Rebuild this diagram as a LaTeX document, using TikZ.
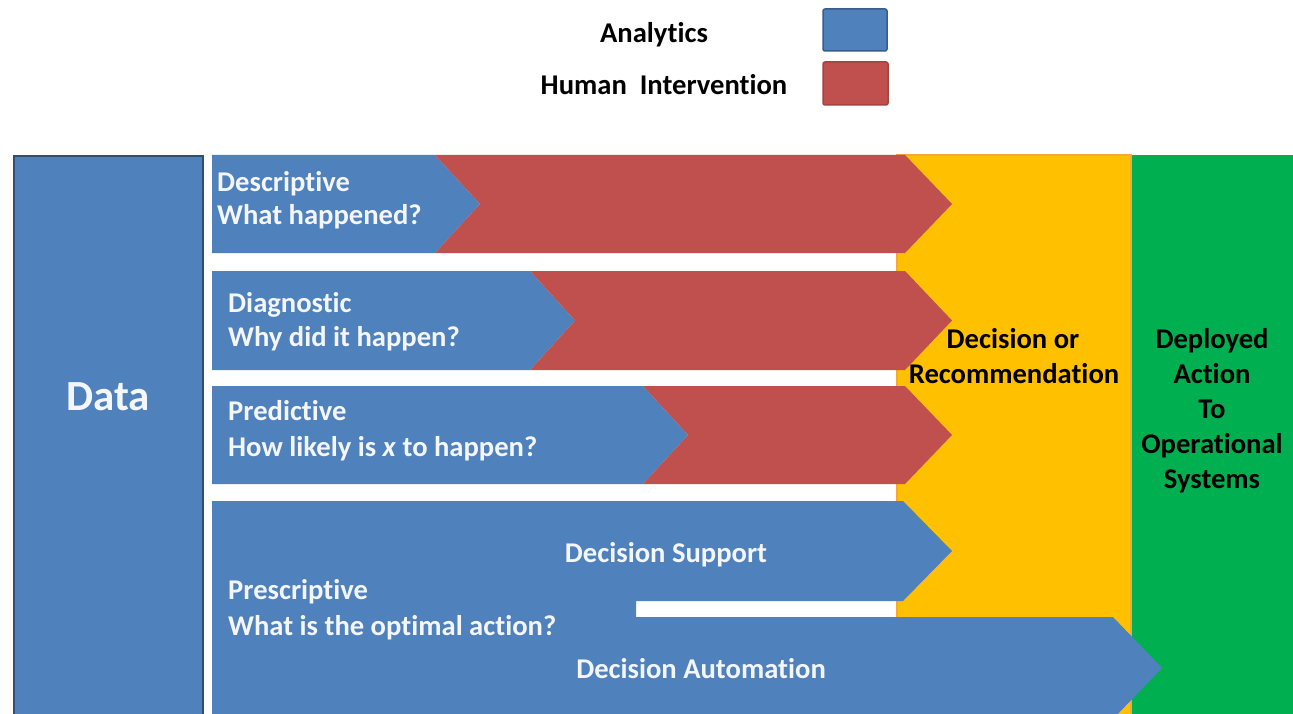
\documentclass[tikz,border=0pt]{standalone}
\usepackage{fontspec}
\setmainfont{Carlito}[Ligatures=NoCommon]
\definecolor{ablue}{HTML}{4F81BD}
\definecolor{dblue}{HTML}{385D8A}
\definecolor{hred}{HTML}{C0504D}
\definecolor{ygold}{HTML}{FFC000}
\definecolor{ygoldedge}{HTML}{F2A93B}
\definecolor{ggreen}{HTML}{00B050}
\definecolor{wtext}{HTML}{F4F6FA}
\begin{document}
\begin{tikzpicture}[x=1pt,y=-1pt,
  lbl/.style={font=\fontsize{28.6}{35}\selectfont\bfseries, inner sep=0pt},
  wlbl/.style={lbl, text=wtext, anchor=base west},
  clbl/.style={lbl, text=wtext, anchor=base},
  klbl/.style={lbl, text=black, anchor=base},
  legbox/.style={rounded corners=2pt, line width=1.5pt}]
\useasboundingbox (0,0) rectangle (1293,714);
\clip (0,0) rectangle (1293,714);
\fill[white] (0,0) rectangle (1293,714);

% legend
\node[klbl] (leg1) at (654,43) {Analytics};
\node[klbl] (leg2) at (664,95) {Human\ \ Intervention};
\filldraw[legbox, fill=ablue, draw=dblue] (823,9) rectangle (887,51);
\filldraw[legbox, fill=hred, draw=hred!85!black] (823,62) rectangle (888,105);

% columns
\filldraw[fill=ygold, draw=ygoldedge, line width=1.5pt] (897,155) rectangle (1131,720);
\fill[ggreen] (1132,155) rectangle (1295,720);
\draw[ygoldedge, line width=1pt] (1131.5,155) -- (1131.5,720);

% data block
\filldraw[fill=ablue, draw=dblue!85!black, line width=2.2pt] (14,156) rectangle (203,720);
\node[lbl, text=wtext, anchor=base, font=\fontsize{43}{50}\selectfont\bfseries] (data) at (108,410) {Data};

% row 1
\fill[ablue] (212,155) -- (435,155) -- (480,204) -- (435,253) -- (212,253) -- cycle;
\fill[hred] (435,155) -- (905,155) -- (952,204) -- (905,253) -- (435,253) -- (480,204) -- cycle;
% row 2
\fill[ablue] (212,271) -- (530,271) -- (575,320.5) -- (530,370) -- (212,370) -- cycle;
\fill[hred] (530,271) -- (905,271) -- (952,320.5) -- (905,370) -- (530,370) -- (575,320.5) -- cycle;
% row 3
\fill[ablue] (212,386) -- (643,386) -- (688,435) -- (643,484) -- (212,484) -- cycle;
\fill[hred] (643,386) -- (905,386) -- (952,435) -- (905,484) -- (643,484) -- (688,435) -- cycle;
% row 4
\fill[ablue] (212,501) -- (903,501) -- (952,551) -- (903,601) -- (636,601) -- (636,617)
  -- (1113,617) -- (1162,668) -- (1113,719) -- (212,719) -- cycle;

% row texts
\node[wlbl] (desc1) at (217,192) {Descriptive};
\node[wlbl] (desc2) at (217,225) {What happened?};
\node[wlbl] (diag1) at (228,312) {Diagnostic};
\node[wlbl] (diag2) at (228,346) {Why did it happen?};
\node[wlbl] (pred1) at (228,420) {Predictive};
\node[wlbl] (pred2) at (228,456) {How likely is \textit{x} to happen?};
\node[wlbl] (pres1) at (228,599) {Prescriptive};
\node[wlbl] (pres2) at (228,635) {What is the optimal action?};
\node[clbl] (dsup) at (666,562) {Decision\ Support};
\node[clbl] (daut) at (701,678) {Decision\ Automation};

% column texts
\node[klbl] (dec1) at (1013,348) {Decision\ or};
\node[klbl] (dec2) at (1014,383) {Recommendation};
\node[klbl] (dep1) at (1212,348) {Deployed};
\node[klbl] (dep2) at (1212,383) {Action};
\node[klbl] (dep3) at (1212,418) {To};
\node[klbl] (dep4) at (1212,453) {Operational};
\node[klbl] (dep5) at (1212,488) {Systems};
\end{tikzpicture}
\end{document}
